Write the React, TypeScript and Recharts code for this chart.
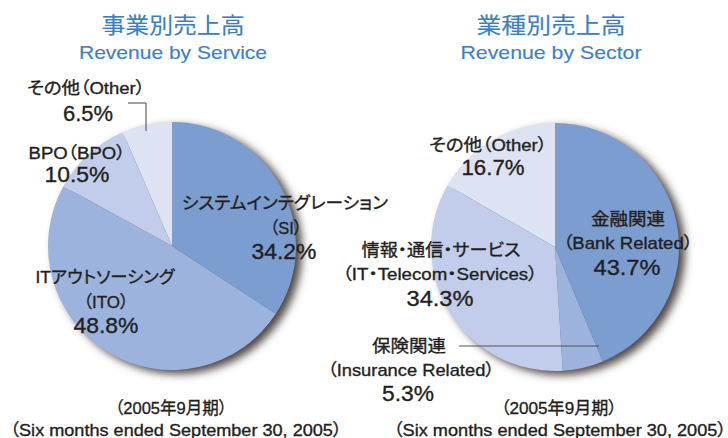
import { PieChart, Pie, Cell } from 'recharts'

const serviceNames = ['SI', 'ITO', 'BPO', 'Other']
const serviceValues = [34.2, 48.8, 10.5, 6.5]
const sectorNames = ['Bank', 'Insurance', 'IT', 'Other']
const sectorValues = [43.7, 5.3, 34.3, 16.7]
const sliceColors = ['#7b9dd0', '#9cb3dd', '#c1cdea', '#dde3f3']

const serviceData = serviceNames.map((name, i) => ({ name, value: serviceValues[i] }))
const sectorData = sectorNames.map((name, i) => ({ name, value: sectorValues[i] }))

const FONT = '"Liberation Sans", Arial, "Noto Sans CJK JP", sans-serif'
const TEXT = '#231f20'
const BLUE = '#3d7fc6'

// x = centre, y = middle, w = width of the text in the picture
type L = { x: number; y: number; w: number; t: string; s?: number; c?: string }

const labels: L[] = [
  { x: 173, y: 25, w: 143, t: '事業別売上高', s: 22, c: BLUE },
  { x: 173, y: 52, w: 188, t: 'Revenue by Service', s: 19, c: BLUE },
  { x: 551, y: 25, w: 149, t: '業種別売上高', s: 22, c: BLUE },
  { x: 551, y: 52, w: 181, t: 'Revenue by Sector', s: 19, c: BLUE },

  { x: 86, y: 88, w: 118, t: 'その他（Other）' },
  { x: 88, y: 113, w: 50, t: '6.5%', s: 22 },
  { x: 77, y: 153, w: 97, t: 'BPO（BPO）' },
  { x: 77, y: 174, w: 65, t: '10.5%', s: 22 },
  { x: 285, y: 203, w: 206, t: 'システムインテグレーション' },
  { x: 286, y: 228, w: 32, t: '（SI）' },
  { x: 284, y: 251, w: 65, t: '34.2%', s: 22 },
  { x: 105, y: 277, w: 139, t: 'ITアウトソーシング' },
  { x: 106, y: 302, w: 45, t: '（ITO）' },
  { x: 106, y: 325, w: 65, t: '48.8%', s: 22 },

  { x: 488, y: 145, w: 118, t: 'その他（Other）' },
  { x: 493, y: 167, w: 63, t: '16.7%', s: 22 },
  { x: 628, y: 219, w: 74, t: '金融関連' },
  { x: 628, y: 243, w: 130, t: '（Bank Related）' },
  { x: 627, y: 267, w: 67, t: '43.7%', s: 22 },
  { x: 441, y: 250, w: 159, t: '情報・通信・サービス' },
  { x: 440, y: 274, w: 195, t: '（IT・Telecom・Services）' },
  { x: 440, y: 298, w: 67, t: '34.3%', s: 22 },
  { x: 409, y: 346, w: 74, t: '保険関連' },
  { x: 411, y: 370, w: 167, t: '（Insurance Related）' },
  { x: 408, y: 393, w: 52, t: '5.3%', s: 22 },

  { x: 171, y: 408, w: 112, t: '（2005年9月期）' },
  { x: 176, y: 430, w: 332, t: '（Six months ended September 30, 2005）' },
  { x: 559, y: 408, w: 116, t: '（2005年9月期）' },
  { x: 560, y: 430, w: 333, t: '（Six months ended September 30, 2005）' },
]

const R = 124
const left = { cx: 172, cy: 246 }
const right = { cx: 555, cy: 247 }

export default function App() {
  return (
    <div style={{ position: 'absolute', left: 0, top: 0, width: 728, height: 438, background: '#fff' }}>
      <PieChart width={728} height={438} margin={{ top: 0, right: 0, bottom: 0, left: 0 }}>
        <defs>
          <filter id="pieShadow" x="-20%" y="-20%" width="140%" height="140%">
            <feGaussianBlur stdDeviation="4" />
          </filter>
        </defs>
        {[left, right].map((p, k) => (
          <Pie
            key={'sh' + k}
            data={[{ value: 1 }]}
            dataKey="value"
            cx={p.cx + 6}
            cy={p.cy + 4}
            outerRadius={R}
            stroke="none"
            isAnimationActive={false}
          >
            <Cell fill="#4f4644" filter="url(#pieShadow)" />
          </Pie>
        ))}
        <Pie
          data={serviceData}
          dataKey="value"
          cx={left.cx}
          cy={left.cy}
          outerRadius={R}
          startAngle={90}
          endAngle={-270}
          stroke="none"
          isAnimationActive={false}
        >
          {serviceData.map((d, i) => (
            <Cell key={d.name} fill={sliceColors[i]} />
          ))}
        </Pie>
        <Pie
          data={sectorData}
          dataKey="value"
          cx={right.cx}
          cy={right.cy}
          outerRadius={R}
          startAngle={90}
          endAngle={-270}
          stroke="none"
          isAnimationActive={false}
        >
          {sectorData.map((d, i) => (
            <Cell key={d.name} fill={sliceColors[i]} />
          ))}
        </Pie>
      </PieChart>
      <svg
        width={728}
        height={438}
        style={{ position: 'absolute', left: 0, top: 0, pointerEvents: 'none' }}
      >
        <polyline points="128,103 146,103 146,131" fill="none" stroke="#444" strokeWidth={1} />
        <line x1={459} y1={346} x2={599} y2={346} stroke="#555" strokeWidth={1.2} />
        {labels.map((l, i) => (
          <text
            key={i}
            x={l.x}
            y={l.y}
            textAnchor="middle"
            dominantBaseline="central"
            fontFamily={FONT}
            fontSize={l.s ?? 17}
            fill={l.c ?? TEXT}
            stroke={l.c ?? TEXT}
            strokeWidth={l.c ? 0.15 : 0.35}
            textLength={l.w}
            lengthAdjust="spacingAndGlyphs"
            style={{ fontFeatureSettings: '"palt"' }}
          >
            {l.t}
          </text>
        ))}
      </svg>
    </div>
  )
}
